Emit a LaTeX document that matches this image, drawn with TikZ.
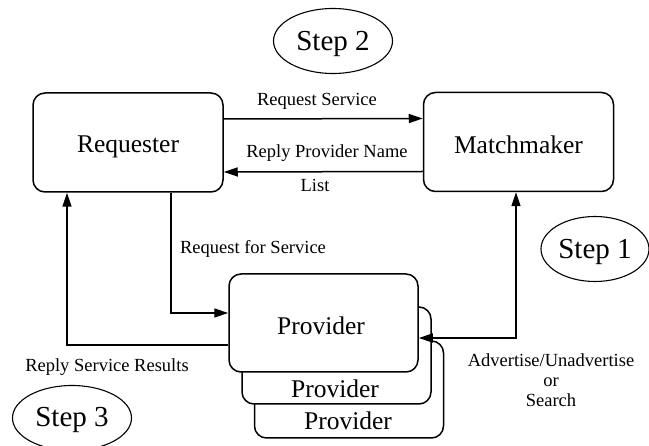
\documentclass[tikz,border=0pt]{standalone}
\usepackage{fontspec}
\setmainfont{Liberation Serif}
\usetikzlibrary{arrows.meta,shapes.geometric}
% lower a text inside its node without changing the node's size
\newcommand{\lowerby}[2]{\raisebox{-#1}[\height][\depth]{#2}}
\begin{document}
\begin{tikzpicture}[x=1pt,y=-1pt,
  box/.style={draw,line width=1.5pt,rounded corners=12pt,fill=white,
    minimum width=190pt,minimum height=99pt,inner sep=0pt,font=\fontsize{25.5}{27}\selectfont},
  pbox/.style={draw,line width=1.5pt,rounded corners=12pt,fill=white,
    minimum width=189pt,minimum height=97pt,inner sep=0pt},
  stepnode/.style={draw,ellipse,line width=1.1pt,minimum width=119pt,minimum height=65pt,
    inner sep=0pt,font=\fontsize{29}{31}\selectfont},
  lbl/.style={font=\fontsize{18.5}{20}\selectfont,inner sep=0pt},
  ptxt/.style={font=\fontsize{25.5}{27}\selectfont,inner sep=0pt},
  conn/.style={line width=1.5pt},
  arr/.style={conn,-{Triangle[length=14pt,width=9pt]}},
  biarr/.style={conn,{Triangle[length=14pt,width=9pt]}-{Triangle[length=14pt,width=9pt]}}]
\useasboundingbox (0,0) rectangle (649,446);

% step markers
\node[stepnode] (s2) at (333,41) {\lowerby{3pt}{Step 2}};
\node[stepnode,minimum width=108pt] (s1) at (595,249) {\lowerby{3pt}{Step 1}};
\node[stepnode] (s3) at (72,418) {\lowerby{2pt}{Step 3}};

% agents
\node[box] (req) at (128,142.5) {\lowerby{4pt}{Requester}};
\node[box] (mm) at (518.5,142) {\lowerby{3pt}{Matchmaker}};

% provider stack, back to front
\node[pbox] (p3) at (349,389.5) {};
\node[pbox] (p2) at (336.5,355.5) {};
\node[pbox,minimum height=98pt] (prov) at (323.5,323) {};
\node[ptxt] (prov-t) at (321,326) {Provider};
\node[ptxt] (p2-t) at (335,389) {Provider};
\node[ptxt] (p3-t) at (348,421) {Provider};

% requester <-> matchmaker
\draw[arr] ([yshift=23.5pt]req.east) -- ([yshift=23.5pt]mm.west);
\draw[arr] ([yshift=-29.5pt]mm.west) -- ([yshift=-29.5pt]req.east);
\node[lbl] (l1) at (317,101) {Request Service};
\node[lbl] (l2) at (327,153) {Reply Provider Name};
\node[lbl] (l3) at (315,185) {List};

% requester <-> provider
\draw[arr] ([xshift=43pt]req.south) |- ([yshift=10pt]prov.west);
\draw[arr] ([yshift=-22pt]prov.west) -| ([xshift=-61pt]req.south);
\node[lbl] (l4) at (253,249) {Request for Service};
\node[lbl] (l5) at (107,367) {Reply Service Results};

% provider <-> matchmaker
\draw[biarr] ([yshift=-15pt]prov.east) -| ([xshift=-2.5pt]mm.south);
\node[lbl,align=center] (l6) at (551,380) {Advertise/Unadvertise\\or\\Search};
\end{tikzpicture}
\end{document}
